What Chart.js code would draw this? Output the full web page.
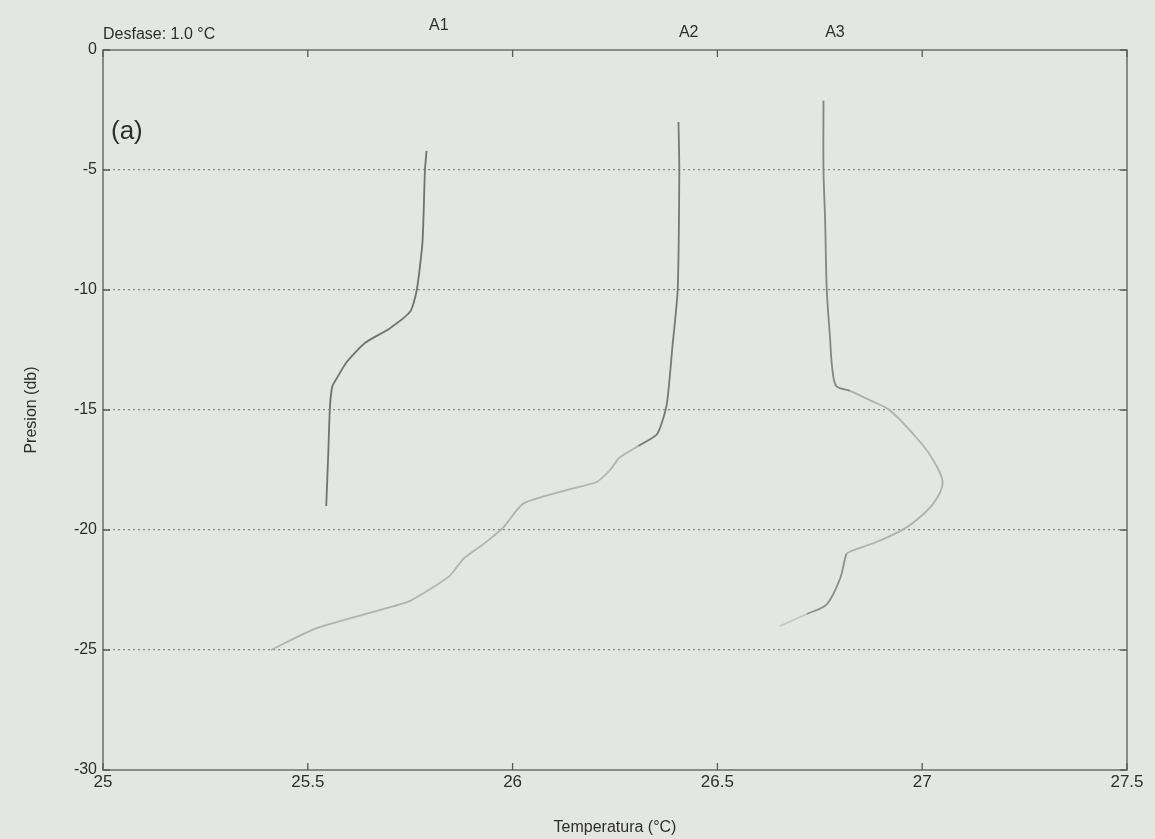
<!DOCTYPE html>
<html>
<head>
<meta charset="utf-8">
<script src="https://cdn.jsdelivr.net/npm/chart.js@4.4.1/dist/chart.umd.min.js"></script>
<style>
  html, body { margin: 0; padding: 0; background: #e4e6e2; }
  #wrap { width: 1155px; height: 839px; }
</style>
</head>
<body>
<div id="wrap"><canvas id="myChart" width="1155" height="839"></canvas></div>
<script>
// profile data: temperature (degC) vs pressure (db)
const a1Temp = [25.79, 25.786, 25.78, 25.766, 25.75, 25.70, 25.64, 25.595, 25.57, 25.56, 25.554, 25.55, 25.545];
const a1Pres = [-4.2, -5, -8, -10, -10.9, -11.6, -12.2, -13.0, -13.7, -14.0, -14.9, -16.8, -19.0];

const a2Temp = [26.405, 26.407, 26.403, 26.39, 26.376, 26.353, 26.307, 26.26, 26.238, 26.205, 26.14, 26.026, 25.977, 25.928, 25.88, 25.847, 25.80, 25.75, 25.684, 25.52, 25.41];
const a2Pres = [-3.0, -5, -10, -12.4, -14.8, -16.0, -16.5, -17.0, -17.5, -18.0, -18.3, -18.9, -19.9, -20.6, -21.2, -21.9, -22.45, -22.95, -23.3, -24.1, -25.0];

const a3Temp = [26.759, 26.759, 26.763, 26.767, 26.775, 26.78, 26.79, 26.824, 26.873, 26.92, 26.978, 27.02, 27.05, 27.027, 26.978, 26.94, 26.888, 26.824, 26.815, 26.80, 26.767, 26.718, 26.653];
const a3Pres = [-2.1, -5, -7.1, -10, -12.0, -13.2, -14.0, -14.2, -14.6, -15.0, -16.0, -16.9, -18.0, -18.9, -19.7, -20.1, -20.5, -20.9, -21.0, -22.0, -23.1, -23.5, -24.0];

const xTicks = [25, 25.5, 26, 26.5, 27, 27.5];
const yTicks = [0, -5, -10, -15, -20, -25, -30];

const profileNames = ['A1', 'A2', 'A3'];
const profileLabelAt = [25.82, 26.43, 26.787];

function toPoints(t, p) {
    return t.map((v, i) => ({x: v, y: p[i]}));
}

// fading of the photocopied lines
function fadeA2(c) {
    return c.p0.parsed.y < -16.2 ? '#b2b2b2' : '#787878';
}
function fadeA3(c) {
    const y = c.p0.parsed.y;
    if (y < -23.2) return '#c4c4c4';
    if (y < -20.95) return '#8e8e8e';
    if (y < -14.1) return '#b0b0b0';
    return '#858585';
}

const frame = {
    id: 'frame',
    afterDraw(chart) {
        const c = chart.ctx;
        const a = chart.chartArea;
        const xs = chart.scales.x;
        const ys = chart.scales.y;
        c.save();
        c.strokeStyle = '#5a5a5a';
        c.lineWidth = 1.3;
        c.strokeRect(a.left, a.top, a.right - a.left, a.bottom - a.top);
        // inward ticks
        c.beginPath();
        xTicks.forEach(v => {
            const px = xs.getPixelForValue(v);
            c.moveTo(px, a.bottom); c.lineTo(px, a.bottom - 7);
            c.moveTo(px, a.top); c.lineTo(px, a.top + 7);
        });
        yTicks.forEach(v => {
            const py = ys.getPixelForValue(v);
            c.moveTo(a.left, py); c.lineTo(a.left + 7, py);
            c.moveTo(a.right, py); c.lineTo(a.right - 7, py);
        });
        c.stroke();
        // texts
        c.fillStyle = '#2e2e2e';
        c.textBaseline = 'middle';
        c.font = '16px "Liberation Sans", Arial, sans-serif';
        c.textAlign = 'left';
        c.fillText('Desfase: 1.0 \u00B0C', a.left, a.top - 15);
        c.textAlign = 'center';
        profileNames.forEach((n, i) => {
            c.fillText(n, xs.getPixelForValue(profileLabelAt[i]), i === 0 ? a.top - 24 : a.top - 17);
        });
        c.textAlign = 'left';
        c.font = '26px "Liberation Sans", Arial, sans-serif';
        c.fillText('(a)', a.left + 8, a.top + 82);
        c.restore();
    }
};

const ctx = document.getElementById('myChart').getContext('2d');

const myChart = new Chart(ctx, {
    type: 'scatter',
    data: {
        datasets: [{
            label: 'A1',
            data: toPoints(a1Temp, a1Pres),
            showLine: true,
            borderColor: '#727272',
            borderWidth: 1.8,
            pointRadius: 0,
            tension: 0.2
        }, {
            label: 'A2',
            data: toPoints(a2Temp, a2Pres),
            showLine: true,
            borderColor: '#787878',
            segment: {borderColor: fadeA2},
            borderWidth: 1.8,
            pointRadius: 0,
            tension: 0.2
        }, {
            label: 'A3',
            data: toPoints(a3Temp, a3Pres),
            showLine: true,
            borderColor: '#858585',
            segment: {borderColor: fadeA3},
            borderWidth: 1.8,
            pointRadius: 0,
            tension: 0.3
        }]
    },
    options: {
        responsive: false,
        animation: false,
        layout: {padding: {top: 50, right: 28, left: 0, bottom: 0}},
        plugins: {
            legend: {display: false},
            tooltip: {enabled: false}
        },
        scales: {
            x: {
                type: 'linear',
                min: 25,
                max: 27.5,
                afterBuildTicks: s => { s.ticks = xTicks.map(v => ({value: v})); },
                ticks: {
                    color: '#2e2e2e',
                    font: {family: '"Liberation Sans Narrow", "Liberation Sans", Arial', size: 17},
                    padding: 2,
                    maxRotation: 0,
                    callback: v => String(v)
                },
                grid: {display: false, drawTicks: false},
                border: {display: false},
                title: {
                    display: true,
                    text: 'Temperatura (\u00B0C)',
                    color: '#2e2e2e',
                    font: {family: '"Liberation Sans Narrow", "Liberation Sans", Arial', size: 16},
                    padding: {top: 2, bottom: 2}
                },
                afterFit: s => { s.height = 69; }
            },
            y: {
                type: 'linear',
                min: -30,
                max: 0,
                afterBuildTicks: s => { s.ticks = yTicks.map(v => ({value: v})); },
                ticks: {
                    color: '#2e2e2e',
                    font: {family: '"Liberation Sans", Arial', size: 16},
                    padding: 6
                },
                grid: {
                    drawTicks: false,
                    lineWidth: 1.2,
                    color: c => (c.tick && (c.tick.value === 0 || c.tick.value === -30)) ? 'rgba(0,0,0,0)' : '#8a8a8a'
                },
                border: {display: false, dash: [2, 3]},
                title: {
                    display: true,
                    text: 'Presion (db)',
                    color: '#2e2e2e',
                    font: {family: '"Liberation Sans", Arial', size: 16},
                    padding: {top: 22, bottom: 0}
                },
                afterFit: s => { s.width = 103; }
            }
        }
    },
    plugins: [frame]
});
</script>
</body>
</html>
